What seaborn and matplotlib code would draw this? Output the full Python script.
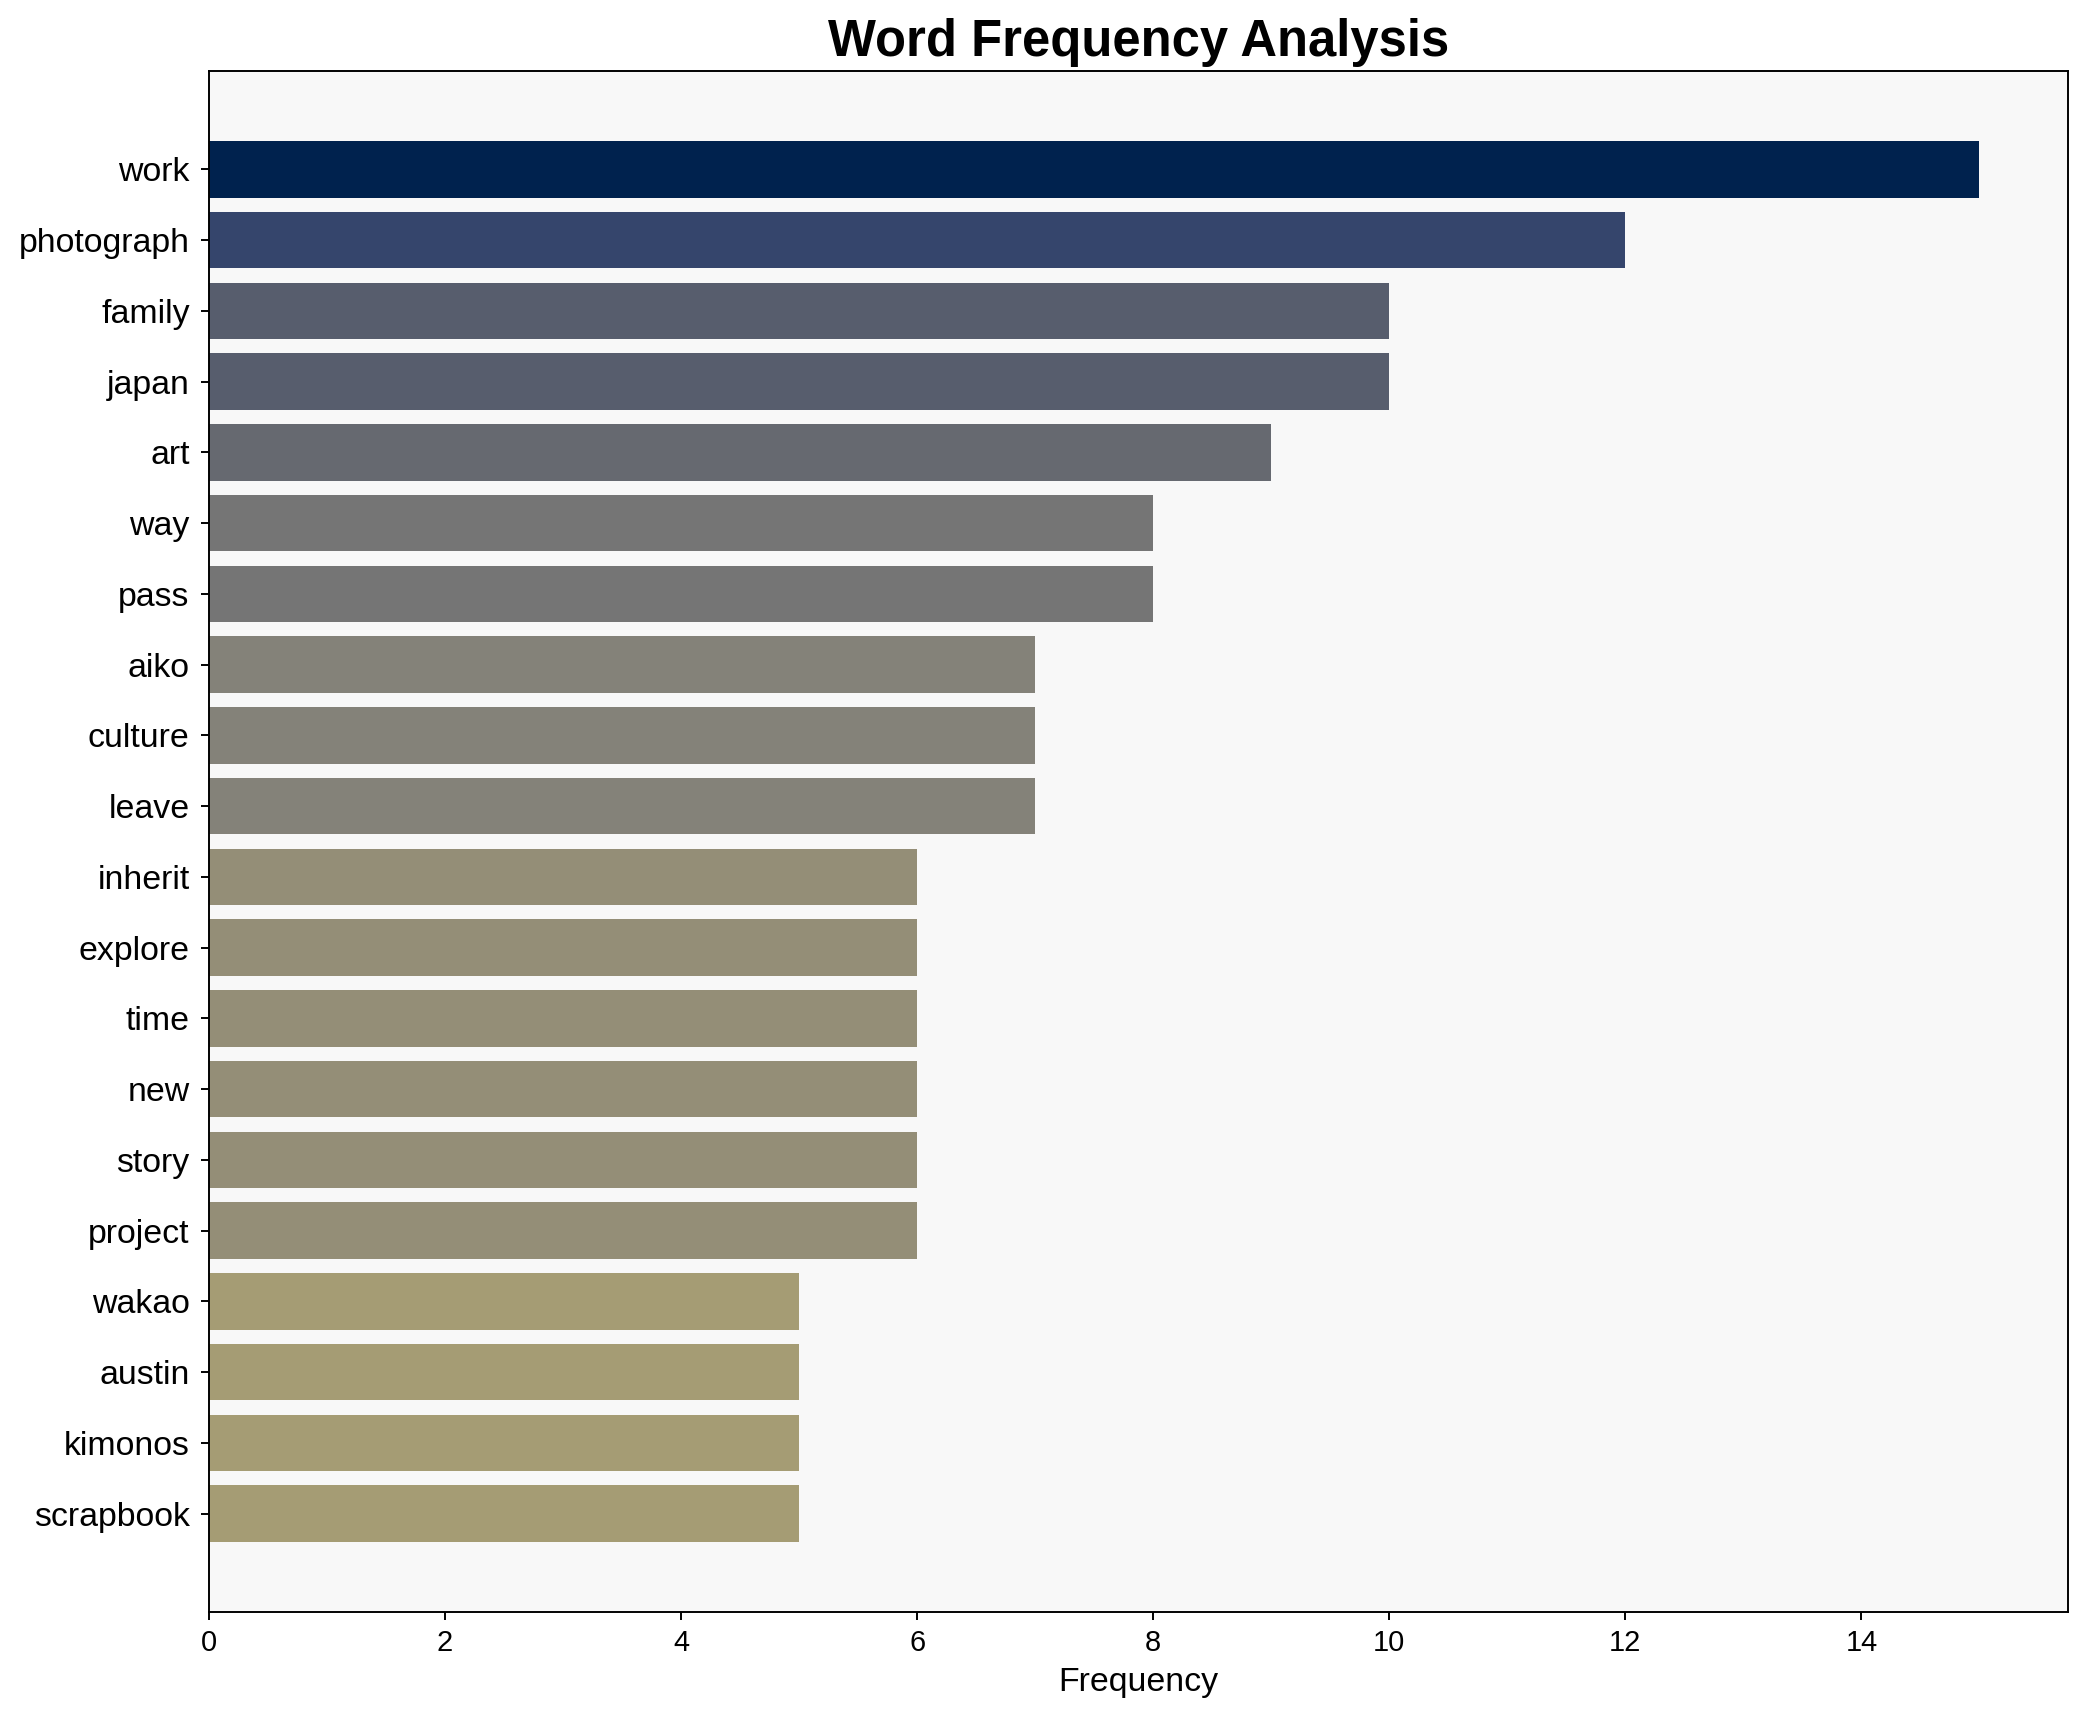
import numpy as np
import pandas as pd
import seaborn as sns
import matplotlib.pyplot as plt

# word counts, already sorted high to low
words = ['work', 'photograph', 'family', 'japan', 'art', 'way', 'pass', 'aiko',
         'culture', 'leave', 'inherit', 'explore', 'time', 'new', 'story',
         'project', 'wakao', 'austin', 'kimonos', 'scrapbook']
counts = [15, 12, 10, 10, 9, 8, 8, 7, 7, 7, 6, 6, 6, 6, 6, 6, 5, 5, 5, 5]

df = pd.DataFrame({'Word': words, 'Frequency': counts})

plt.rcParams['font.family'] = ['Liberation Sans', 'DejaVu Sans']

# colour each bar by its count on the cividis scale (high = dark)
cmap = plt.get_cmap('cividis')
colors = [cmap(1 - c / max(counts)) for c in counts]

fig, ax = plt.subplots(figsize=(2088 / 174, 1722 / 174), dpi=174)
fig.subplots_adjust(left=0.1001, right=0.9904, top=0.9588, bottom=0.0639)
ax.set_facecolor('#f8f8f8')

sns.barplot(data=df, x='Frequency', y='Word', hue='Word', palette=colors,
            legend=False, saturation=1, width=0.8, ax=ax)

n = len(words)
ax.set_ylim(n - 1 + 1.39, -1.39)
ax.set_xlim(0, max(counts) * 1.05)

ax.set_title('Word Frequency Analysis', fontsize=21, fontweight='bold')
ax.set_xlabel('Frequency', fontsize=14)
ax.set_ylabel('')
ax.tick_params(axis='x', labelsize=12)
ax.tick_params(axis='y', labelsize=14, pad=4.5)
for s in ax.spines.values():
    s.set_color('black')

fig.savefig('out.png', dpi=174)
